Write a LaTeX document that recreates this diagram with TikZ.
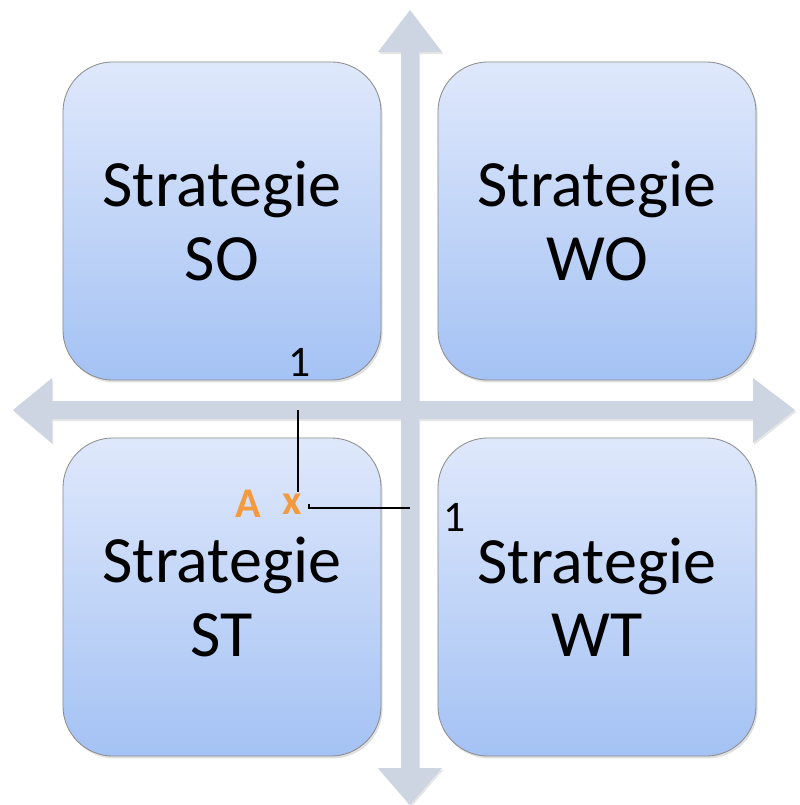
\documentclass[tikz,border=0pt]{standalone}
\usepackage{fontspec}
\setmainfont{Carlito}
\usetikzlibrary{
    calc,
    shadows,
    positioning
}
\definecolor{axisgray}{HTML}{CDD5E3}
\definecolor{quadtop}{HTML}{DFE8FB}
\definecolor{quadbottom}{HTML}{A4C2F4}
\definecolor{markorange}{HTML}{F39A3E}
\tikzset{
  quad/.style={
    draw=black!45,
    line width=0.6pt,
    rounded corners=1.25cm,
    minimum width=7.95cm,
    minimum height=7.95cm,
    top color=quadtop,
    bottom color=quadbottom,
    align=center,
    font=\fontsize{47}{52}\selectfont,
    drop shadow={shadow xshift=0.04cm,shadow yshift=-0.06cm,opacity=0.25}
  },
  axis/.style={
    fill=axisgray,
    draw=none,
    drop shadow={shadow xshift=0.03cm,shadow yshift=-0.05cm,opacity=0.2}
  },
  marklabel/.style={
    text=markorange,
    font=\fontsize{30}{34}\selectfont\bfseries,
    inner sep=1pt
  },
  numlabel/.style={
    font=\fontsize{31}{35}\selectfont,
    inner sep=1pt
  },
  guide/.style={
    black,
    line width=1pt
  }
}

\begin{document}
\begin{tikzpicture}[x=0.025cm,y=-0.025cm]
    \useasboundingbox (0,0) rectangle (800,805);

    % axes
    \path[axis] (410,10) -- (442,52) -- (419,52) -- (419,401) -- (753,401)
        -- (753,378) -- (795,410) -- (753,443) -- (753,419) -- (419,419)
        -- (419,768) -- (442,768) -- (410,805) -- (378,768) -- (401,768)
        -- (401,419) -- (52,419) -- (52,443) -- (13,410) -- (52,378)
        -- (52,401) -- (401,401) -- (401,52) -- (378,52) -- cycle;

    % quadrants
    \node[quad] (so) at (222,221) {Strategie\\SO};
    \node[quad] (wo) at (597,221) {Strategie\\WO};
    \node[quad] (st) at (222,597) {Strategie\\ST};
    \node[quad] (wt) at (597,597) {Strategie\\WT};

    % point A
    \node[marklabel] (pa) at (248,504) {A};
    \node[marklabel] (px) at (292,504) {x};
    \node[numlabel] (ny) at (300,362) {1};
    \node[numlabel] (nx) at (455,517) {1};
    \coordinate (ytick) at (298,410);
    \coordinate (xtick) at (410,508);
    \draw[guide] (ytick) -- (ytick |- px.north);
    \draw[guide] (px.east) ++(4pt,0) coordinate (pxe) -- (pxe |- xtick) -- (xtick);
\end{tikzpicture}
\end{document}
